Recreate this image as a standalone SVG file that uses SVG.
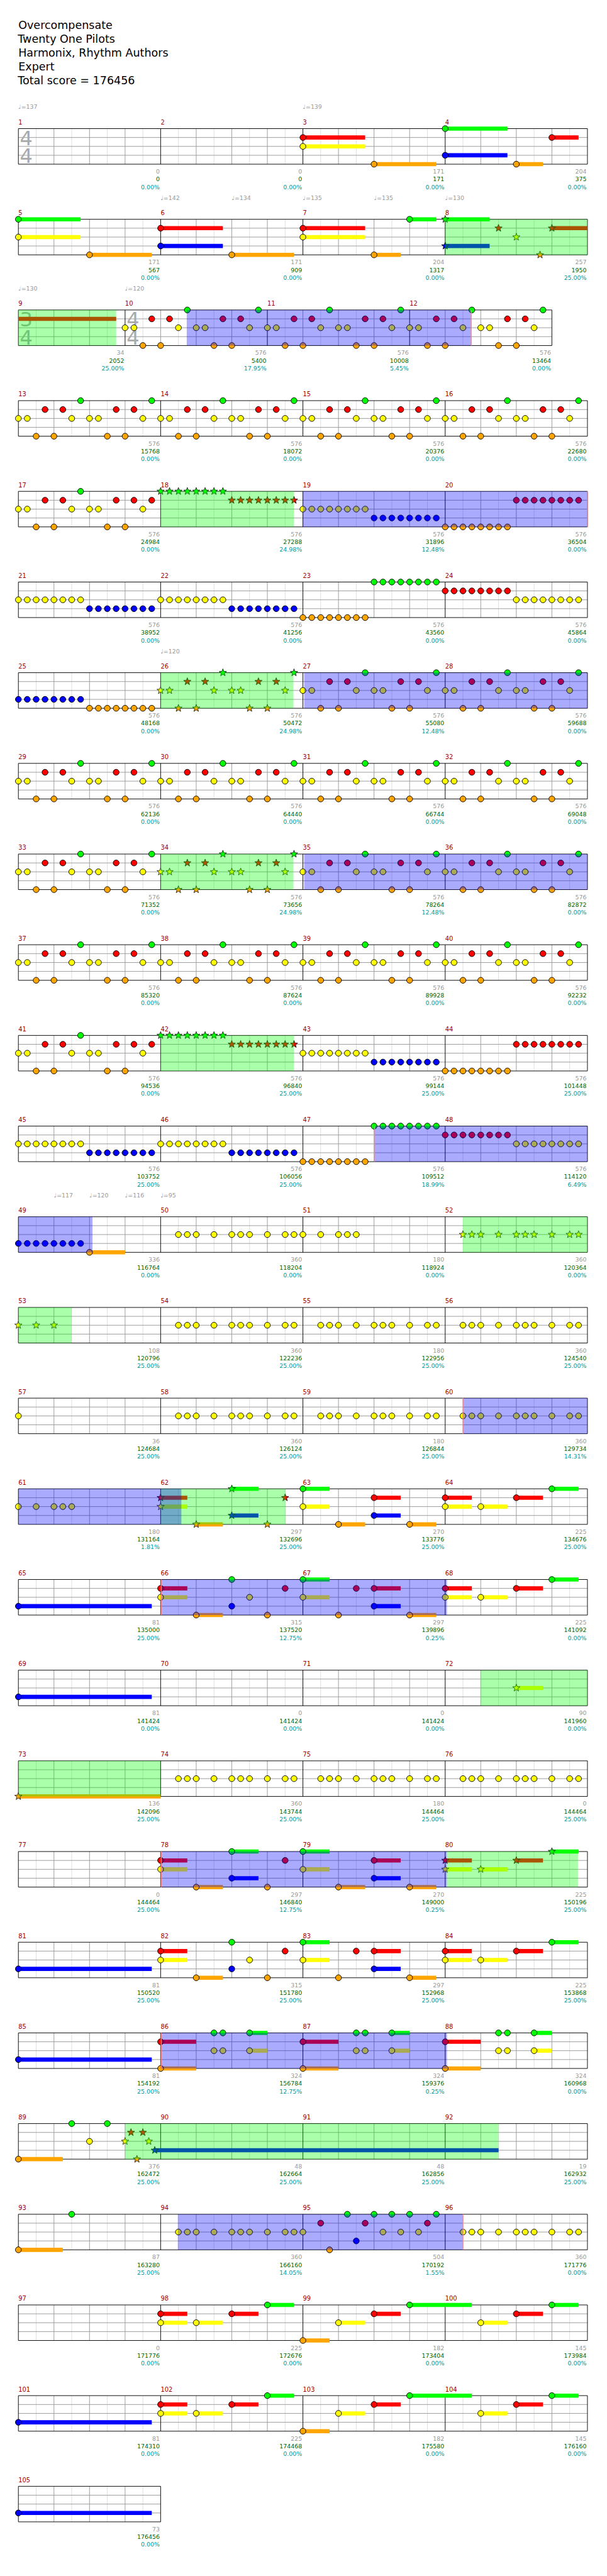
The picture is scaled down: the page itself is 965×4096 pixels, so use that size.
<svg xmlns="http://www.w3.org/2000/svg" width="965" height="4096" viewBox="0 0 965 4096">
<defs>
<style>
.t{font:18.6px 'DejaVu Sans',sans-serif;fill:#000}
.n{font:10.5px 'DejaVu Sans',sans-serif;fill:#900}
.q{font:10px 'DejaVu Sans',sans-serif;fill:#999}
.a,.b,.c{font:10px 'DejaVu Sans',sans-serif;text-anchor:end}
.a{fill:#999}.b{fill:#060}.c{fill:#099}
.ts{font:34px 'DejaVu Sans',sans-serif;fill:#aaa}
.sg,.sr,.sy,.sb,.so{stroke-width:7;fill:none}
.sg{stroke:#0f0}.sr{stroke:#f00}.sy{stroke:#ff0}.sb{stroke:#00f}.so{stroke:#ffa500}
.vb{fill:#00f;fill-opacity:.333}
.vg{fill:#0f0;fill-opacity:.333}
.pk{stroke:#f88;stroke-width:1.5}
</style>
<circle id="g" r="5" fill="#0f0" stroke="#000"/>
<circle id="r" cy="15" r="5" fill="#f00" stroke="#000"/>
<circle id="y" cy="30" r="5" fill="#ff0" stroke="#000"/>
<circle id="b" cy="45" r="5" fill="#00f" stroke="#000"/>
<circle id="o" cy="60" r="5" fill="#ffa500" stroke="#000"/>
<path id="st" d="M0-6.5L1.6-2.2 6.2-2 2.6 .8 3.8 5.3 0 2.7-3.8 5.3-2.6 .8-6.2-2-1.6-2.2Z" stroke="#000" stroke-width=".8"/>
<use id="G" href="#st" fill="#0f0"/>
<use id="R" href="#st" y="15" fill="#f00"/>
<use id="Y" href="#st" y="30" fill="#ff0"/>
<use id="B" href="#st" y="45" fill="#00f"/>
<use id="O" href="#st" y="60" fill="#ffa500"/>
<g id="grid">
<path d="M61 0v60M121 0v60M181 0v60M241 0v60M301 0v60M361 0v60M421 0v60M481 0v60M541 0v60M601 0v60M661 0v60M721 0v60M781 0v60M841 0v60M901 0v60M961 0v60" stroke="#ddd"/>
<path d="M91 0v60M151 0v60M211 0v60M331 0v60M391 0v60M451 0v60M571 0v60M631 0v60M691 0v60M811 0v60M871 0v60M931 0v60M31 15H991M31 30H991M31 45H991" stroke="#999"/>
<path d="M31 0H991V60H31ZM271 0v60M511 0v60M751 0v60" stroke="#000" fill="none"/>
</g>
<g id="h"><use href="#y"/><use href="#y" x="15"/><use href="#o" x="30"/><use href="#r" x="45"/><use href="#o" x="60"/><use href="#r" x="75"/><use href="#y" x="90"/></g>
<g id="H"><use href="#Y"/><use href="#Y" x="15"/><use href="#O" x="30"/><use href="#R" x="45"/><use href="#O" x="60"/><use href="#R" x="75"/><use href="#Y" x="90"/></g>
<g id="pA"><use href="#h"/><use href="#g" x="105"/><use href="#h" x="120"/><use href="#g" x="225"/></g>
<g id="pA2"><use href="#h"/><use href="#g" x="105"/><use href="#h" x="120"/><use href="#r" x="225"/></g>
<g id="sA"><use href="#H"/><use href="#G" x="105"/><use href="#H" x="120"/><use href="#G" x="225"/></g>
<g id="y8"><use href="#y"/><use href="#y" x="15"/><use href="#y" x="30"/><use href="#y" x="45"/><use href="#y" x="60"/><use href="#y" x="75"/><use href="#y" x="90"/><use href="#y" x="105"/></g>
<g id="b8"><use href="#b"/><use href="#b" x="15"/><use href="#b" x="30"/><use href="#b" x="45"/><use href="#b" x="60"/><use href="#b" x="75"/><use href="#b" x="90"/><use href="#b" x="105"/></g>
<g id="o8"><use href="#o"/><use href="#o" x="15"/><use href="#o" x="30"/><use href="#o" x="45"/><use href="#o" x="60"/><use href="#o" x="75"/><use href="#o" x="90"/><use href="#o" x="105"/></g>
<g id="r8"><use href="#r"/><use href="#r" x="15"/><use href="#r" x="30"/><use href="#r" x="45"/><use href="#r" x="60"/><use href="#r" x="75"/><use href="#r" x="90"/><use href="#r" x="105"/></g>
<g id="g8"><use href="#g"/><use href="#g" x="15"/><use href="#g" x="30"/><use href="#g" x="45"/><use href="#g" x="60"/><use href="#g" x="75"/><use href="#g" x="90"/><use href="#g" x="105"/></g>
<g id="G8"><use href="#G"/><use href="#G" x="15"/><use href="#G" x="30"/><use href="#G" x="45"/><use href="#G" x="60"/><use href="#G" x="75"/><use href="#G" x="90"/><use href="#G" x="105"/></g>
<g id="R8"><use href="#R"/><use href="#R" x="15"/><use href="#R" x="30"/><use href="#R" x="45"/><use href="#R" x="60"/><use href="#R" x="75"/><use href="#R" x="90"/><use href="#R" x="105"/></g>
<g id="sG"><use href="#G8"/><use href="#R8" x="120"/></g>
<g id="pB"><use href="#y" x="30"/><use href="#y" x="45"/><use href="#y" x="60"/><use href="#y" x="90"/><use href="#y" x="120"/><use href="#y" x="135"/><use href="#y" x="150"/><use href="#y" x="180"/><use href="#y" x="210"/><use href="#y" x="225"/></g>
<g id="sB"><use href="#Y" x="30"/><use href="#Y" x="45"/><use href="#Y" x="60"/><use href="#Y" x="90"/><use href="#Y" x="120"/><use href="#Y" x="135"/><use href="#Y" x="150"/><use href="#Y" x="180"/><use href="#Y" x="210"/><use href="#Y" x="225"/></g>
<g id="P1"><path class="sr" d="M0 15h45"/><path class="sy" d="M0 30h45"/><path class="so" d="M60 60h45"/><path class="sg" d="M120 0h45"/><path class="sb" d="M120 45h45"/><use href="#r"/><use href="#y"/><use href="#o" x="60"/><use href="#g" x="120"/><use href="#b" x="120"/><use href="#o" x="180"/><use href="#r" x="210"/></g>
<g id="S1"><path class="sr" d="M0 15h45"/><path class="sy" d="M0 30h45"/><path class="so" d="M60 60h45"/><path class="sg" d="M120 0h45"/><path class="sb" d="M120 45h45"/><use href="#R"/><use href="#Y"/><use href="#O" x="60"/><use href="#G" x="120"/><use href="#B" x="120"/><use href="#O" x="180"/><use href="#R" x="210"/></g>
<g id="P2"><path class="sg" d="M0 0h45"/><path class="sy" d="M0 30h45"/><path class="so" d="M60 60h45M180 60h45"/><path class="sr" d="M120 15h45"/><path class="sb" d="M120 45h45"/><use href="#g"/><use href="#y"/><use href="#o" x="60"/><use href="#r" x="120"/><use href="#b" x="120"/><use href="#o" x="180"/></g>
<g id="P3"><path class="sr" d="M0 15h45M120 15h45"/><path class="sy" d="M0 30h45M60 30h45"/><path class="sg" d="M180 0h45"/><use href="#r"/><use href="#y"/><use href="#y" x="60"/><use href="#r" x="120"/><use href="#g" x="180"/></g>
<g id="S3"><path class="sr" d="M0 15h45M120 15h45"/><path class="sy" d="M0 30h45M60 30h45"/><path class="sg" d="M180 0h45"/><use href="#R"/><use href="#Y"/><use href="#Y" x="60"/><use href="#R" x="120"/><use href="#G" x="180"/></g>
<g id="P4"><path class="sr" d="M0 15h45"/><path class="sy" d="M0 30h45"/><path class="so" d="M60 60h45"/><use href="#r"/><use href="#y"/><use href="#o" x="60"/><use href="#g" x="120"/><use href="#b" x="120"/><use href="#y" x="150"/><use href="#o" x="180"/><use href="#r" x="210"/></g>
<g id="P5"><path class="sg" d="M0 0h45"/><path class="sy" d="M0 30h45"/><path class="sr" d="M120 15h45"/><path class="sb" d="M120 45h45"/><path class="so" d="M180 60h45"/><use href="#g"/><use href="#y"/><use href="#o" x="60"/><use href="#r" x="90"/><use href="#r" x="120"/><use href="#b" x="120"/><use href="#o" x="180"/></g>
<g id="P6"><path class="sr" d="M0 15h60"/><path class="so" d="M0 60h60"/><path class="sg" d="M150 0h30"/><path class="sy" d="M150 30h30"/><use href="#r"/><use href="#o"/><use href="#g" x="90"/><use href="#g" x="105"/><use href="#g" x="150"/><use href="#y" x="90"/><use href="#y" x="105"/><use href="#y" x="150"/></g>
</defs>
<rect width="965" height="4096" fill="#fff"/>
<g transform="scale(0.9424)">
<g id="title" class="t"><text x="31" y="49">Overcompensate</text><text x="30" y="72.2">Twenty One Pilots</text><text x="31" y="95.4">Harmonix, Rhythm Authors</text><text x="31" y="118.6">Expert</text><text x="30" y="141.8">Total score = 176456</text></g>

<g id="row1" transform="translate(0,217)">
<use href="#grid"/>
<text class="ts" x="33.5" y="28">4</text><text class="ts" x="33.5" y="58">4</text>
<g class="q"><text x="31" y="-33">♩=137</text><text x="511" y="-33">♩=139</text></g>
<g class="n"><text x="31" y="-7">1</text><text x="271" y="-7">2</text><text x="511" y="-7">3</text><text x="751" y="-7">4</text></g>
<path class="sr" d="M511 15h105M931 15h45"/><path class="sy" d="M511 30h105"/><path class="so" d="M631 60h105M871 60h45"/><path class="sg" d="M751 0h105"/><path class="sb" d="M751 45h105"/>
<use href="#r" x="511"/><use href="#y" x="511"/><use href="#o" x="631"/><use href="#g" x="751"/><use href="#b" x="751"/><use href="#o" x="871"/><use href="#r" x="931"/>
<g class="a"><text x="269.5" y="76">0</text><text x="509.5" y="76">0</text><text x="749.5" y="76">171</text><text x="989.5" y="76">204</text></g>
<g class="b"><text x="269.5" y="89">0</text><text x="509.5" y="89">0</text><text x="749.5" y="89">171</text><text x="989.5" y="89">375</text></g>
<g class="c"><text x="269.5" y="102">0.00%</text><text x="509.5" y="102">0.00%</text><text x="749.5" y="102">0.00%</text><text x="989.5" y="102">0.00%</text></g>
</g>

<g id="row2" transform="translate(0,370)">
<use href="#grid"/>
<g class="q"><text x="271" y="-33">♩=142</text><text x="391" y="-33">♩=134</text><text x="511" y="-33">♩=135</text><text x="631" y="-33">♩=135</text><text x="751" y="-33">♩=130</text></g>
<g class="n"><text x="31" y="-7">5</text><text x="271" y="-7">6</text><text x="511" y="-7">7</text><text x="751" y="-7">8</text></g>
<path class="sg" d="M31 0h105M691 0h45M751 0h75"/><path class="sy" d="M31 30h105M511 30h105"/><path class="so" d="M151 60h105M391 60h105M631 60h45"/><path class="sr" d="M271 15h105M511 15h105M931 15H991"/><path class="sb" d="M271 45h105M751 45h75"/>
<use href="#g" x="31"/><use href="#y" x="31"/><use href="#o" x="151"/><use href="#r" x="271"/><use href="#b" x="271"/><use href="#o" x="391"/><use href="#r" x="511"/><use href="#y" x="511"/><use href="#o" x="631"/><use href="#g" x="691"/>
<use href="#G" x="751"/><use href="#B" x="751"/><use href="#R" x="841"/><use href="#Y" x="871"/><use href="#O" x="911"/><use href="#R" x="931"/>
<rect class="vg" x="751" width="240" height="60"/>
<g class="a"><text x="269.5" y="76">171</text><text x="509.5" y="76">171</text><text x="749.5" y="76">204</text><text x="989.5" y="76">257</text></g>
<g class="b"><text x="269.5" y="89">567</text><text x="509.5" y="89">909</text><text x="749.5" y="89">1317</text><text x="989.5" y="89">1950</text></g>
<g class="c"><text x="269.5" y="102">0.00%</text><text x="509.5" y="102">0.00%</text><text x="749.5" y="102">0.00%</text><text x="989.5" y="102">25.00%</text></g>
</g>

<g id="row3" transform="translate(0,523)">
<path d="M61 0v60M121 0v60M181 0v60M241 0v60M301 0v60M361 0v60M421 0v60M481 0v60M541 0v60M601 0v60M661 0v60M721 0v60M781 0v60M841 0v60M901 0v60" stroke="#ddd"/>
<path d="M91 0v60M151 0v60M271 0v60M331 0v60M391 0v60M511 0v60M571 0v60M631 0v60M751 0v60M811 0v60M871 0v60M31 15H931M31 30H931M31 45H931" stroke="#999"/>
<path d="M31 0H931V60H31ZM211 0v60M451 0v60M691 0v60" stroke="#000" fill="none"/>
<text class="ts" x="33.5" y="28">3</text><text class="ts" x="33.5" y="58">4</text><text class="ts" x="213.5" y="28">4</text><text class="ts" x="213.5" y="58">4</text>
<g class="q"><text x="31" y="-33">♩=130</text><text x="211" y="-33">♩=120</text></g>
<g class="n"><text x="31" y="-7">9</text><text x="211" y="-7">10</text><text x="451" y="-7">11</text><text x="691" y="-7">12</text></g>
<path class="sr" d="M31 15H196"/>
<use href="#pA" x="211"/><use href="#pA" x="451"/><use href="#pA" x="691"/>
<rect class="vg" x="31" width="165" height="60"/><rect class="vb" x="315" width="480" height="60"/><path class="pk" d="M795 0v60"/>
<g class="a"><text x="209.5" y="76">34</text><text x="449.5" y="76">576</text><text x="689.5" y="76">576</text><text x="929.5" y="76">576</text></g>
<g class="b"><text x="209.5" y="89">2052</text><text x="449.5" y="89">5400</text><text x="689.5" y="89">10008</text><text x="929.5" y="89">13464</text></g>
<g class="c"><text x="209.5" y="102">25.00%</text><text x="449.5" y="102">17.95%</text><text x="689.5" y="102">5.45%</text><text x="929.5" y="102">0.00%</text></g>
</g>

<g id="row4" transform="translate(0,676)">
<use href="#grid"/>
<g class="n"><text x="31" y="-7">13</text><text x="271" y="-7">14</text><text x="511" y="-7">15</text><text x="751" y="-7">16</text></g>
<use href="#pA" x="31"/><use href="#pA" x="271"/><use href="#pA" x="511"/><use href="#pA" x="751"/>
<g class="a"><text x="269.5" y="76">576</text><text x="509.5" y="76">576</text><text x="749.5" y="76">576</text><text x="989.5" y="76">576</text></g>
<g class="b"><text x="269.5" y="89">15768</text><text x="509.5" y="89">18072</text><text x="749.5" y="89">20376</text><text x="989.5" y="89">22680</text></g>
<g class="c"><text x="269.5" y="102">0.00%</text><text x="509.5" y="102">0.00%</text><text x="749.5" y="102">0.00%</text><text x="989.5" y="102">0.00%</text></g>
</g>

<g id="row5" transform="translate(0,829)">
<use href="#grid"/>
<g class="n"><text x="31" y="-7">17</text><text x="271" y="-7">18</text><text x="511" y="-7">19</text><text x="751" y="-7">20</text></g>
<use href="#pA2" x="31"/><use href="#sG" x="271"/><use href="#y8" x="511"/><use href="#b8" x="631"/><use href="#o8" x="751"/><use href="#r8" x="871"/>
<rect class="vg" x="271" width="225" height="60"/><rect class="vb" x="511" width="480" height="60"/><path class="pk" d="M991 0v60"/>
<g class="a"><text x="269.5" y="76">576</text><text x="509.5" y="76">576</text><text x="749.5" y="76">576</text><text x="989.5" y="76">576</text></g>
<g class="b"><text x="269.5" y="89">24984</text><text x="509.5" y="89">27288</text><text x="749.5" y="89">31896</text><text x="989.5" y="89">36504</text></g>
<g class="c"><text x="269.5" y="102">0.00%</text><text x="509.5" y="102">24.98%</text><text x="749.5" y="102">12.48%</text><text x="989.5" y="102">0.00%</text></g>
</g>

<g id="row6" transform="translate(0,982)">
<use href="#grid"/>
<g class="n"><text x="31" y="-7">21</text><text x="271" y="-7">22</text><text x="511" y="-7">23</text><text x="751" y="-7">24</text></g>
<use href="#y8" x="31"/><use href="#b8" x="151"/><use href="#y8" x="271"/><use href="#b8" x="391"/><use href="#o8" x="511"/><use href="#g8" x="631"/><use href="#r8" x="751"/><use href="#y8" x="871"/>
<g class="a"><text x="269.5" y="76">576</text><text x="509.5" y="76">576</text><text x="749.5" y="76">576</text><text x="989.5" y="76">576</text></g>
<g class="b"><text x="269.5" y="89">38952</text><text x="509.5" y="89">41256</text><text x="749.5" y="89">43560</text><text x="989.5" y="89">45864</text></g>
<g class="c"><text x="269.5" y="102">0.00%</text><text x="509.5" y="102">0.00%</text><text x="749.5" y="102">0.00%</text><text x="989.5" y="102">0.00%</text></g>
</g>

<g id="row7" transform="translate(0,1135)">
<use href="#grid"/>
<g class="q"><text x="271" y="-33">♩=120</text></g>
<g class="n"><text x="31" y="-7">25</text><text x="271" y="-7">26</text><text x="511" y="-7">27</text><text x="751" y="-7">28</text></g>
<use href="#b8" x="31"/><use href="#o8" x="151"/><use href="#sA" x="271"/><use href="#pA" x="511"/><use href="#pA" x="751"/>
<rect class="vg" x="271" width="224" height="60"/><rect class="vb" x="513" width="478" height="60"/>
<g class="a"><text x="269.5" y="76">576</text><text x="509.5" y="76">576</text><text x="749.5" y="76">576</text><text x="989.5" y="76">576</text></g>
<g class="b"><text x="269.5" y="89">48168</text><text x="509.5" y="89">50472</text><text x="749.5" y="89">55080</text><text x="989.5" y="89">59688</text></g>
<g class="c"><text x="269.5" y="102">0.00%</text><text x="509.5" y="102">24.98%</text><text x="749.5" y="102">12.48%</text><text x="989.5" y="102">0.00%</text></g>
</g>

<g id="row8" transform="translate(0,1288)">
<use href="#grid"/>
<g class="n"><text x="31" y="-7">29</text><text x="271" y="-7">30</text><text x="511" y="-7">31</text><text x="751" y="-7">32</text></g>
<use href="#pA" x="31"/><use href="#pA" x="271"/><use href="#pA" x="511"/><use href="#pA" x="751"/>
<g class="a"><text x="269.5" y="76">576</text><text x="509.5" y="76">576</text><text x="749.5" y="76">576</text><text x="989.5" y="76">576</text></g>
<g class="b"><text x="269.5" y="89">62136</text><text x="509.5" y="89">64440</text><text x="749.5" y="89">66744</text><text x="989.5" y="89">69048</text></g>
<g class="c"><text x="269.5" y="102">0.00%</text><text x="509.5" y="102">0.00%</text><text x="749.5" y="102">0.00%</text><text x="989.5" y="102">0.00%</text></g>
</g>

<g id="row9" transform="translate(0,1441)">
<use href="#grid"/>
<g class="n"><text x="31" y="-7">33</text><text x="271" y="-7">34</text><text x="511" y="-7">35</text><text x="751" y="-7">36</text></g>
<use href="#pA" x="31"/><use href="#sA" x="271"/><use href="#pA" x="511"/><use href="#pA" x="751"/>
<rect class="vg" x="271" width="224" height="60"/><rect class="vb" x="513" width="478" height="60"/>
<g class="a"><text x="269.5" y="76">576</text><text x="509.5" y="76">576</text><text x="749.5" y="76">576</text><text x="989.5" y="76">576</text></g>
<g class="b"><text x="269.5" y="89">71352</text><text x="509.5" y="89">73656</text><text x="749.5" y="89">78264</text><text x="989.5" y="89">82872</text></g>
<g class="c"><text x="269.5" y="102">0.00%</text><text x="509.5" y="102">24.98%</text><text x="749.5" y="102">12.48%</text><text x="989.5" y="102">0.00%</text></g>
</g>

<g id="row10" transform="translate(0,1594)">
<use href="#grid"/>
<g class="n"><text x="31" y="-7">37</text><text x="271" y="-7">38</text><text x="511" y="-7">39</text><text x="751" y="-7">40</text></g>
<use href="#pA" x="31"/><use href="#pA" x="271"/><use href="#pA" x="511"/><use href="#pA" x="751"/>
<g class="a"><text x="269.5" y="76">576</text><text x="509.5" y="76">576</text><text x="749.5" y="76">576</text><text x="989.5" y="76">576</text></g>
<g class="b"><text x="269.5" y="89">85320</text><text x="509.5" y="89">87624</text><text x="749.5" y="89">89928</text><text x="989.5" y="89">92232</text></g>
<g class="c"><text x="269.5" y="102">0.00%</text><text x="509.5" y="102">0.00%</text><text x="749.5" y="102">0.00%</text><text x="989.5" y="102">0.00%</text></g>
</g>

<g id="row11" transform="translate(0,1747)">
<use href="#grid"/>
<g class="n"><text x="31" y="-7">41</text><text x="271" y="-7">42</text><text x="511" y="-7">43</text><text x="751" y="-7">44</text></g>
<use href="#pA2" x="31"/><use href="#sG" x="271"/><use href="#y8" x="511"/><use href="#b8" x="631"/><use href="#o8" x="751"/><use href="#r8" x="871"/>
<rect class="vg" x="271" width="225" height="60"/>
<g class="a"><text x="269.5" y="76">576</text><text x="509.5" y="76">576</text><text x="749.5" y="76">576</text><text x="989.5" y="76">576</text></g>
<g class="b"><text x="269.5" y="89">94536</text><text x="509.5" y="89">96840</text><text x="749.5" y="89">99144</text><text x="989.5" y="89">101448</text></g>
<g class="c"><text x="269.5" y="102">0.00%</text><text x="509.5" y="102">25.00%</text><text x="749.5" y="102">25.00%</text><text x="989.5" y="102">25.00%</text></g>
</g>

<g id="row12" transform="translate(0,1900)">
<use href="#grid"/>
<g class="n"><text x="31" y="-7">45</text><text x="271" y="-7">46</text><text x="511" y="-7">47</text><text x="751" y="-7">48</text></g>
<use href="#y8" x="31"/><use href="#b8" x="151"/><use href="#y8" x="271"/><use href="#b8" x="391"/><use href="#o8" x="511"/><use href="#g8" x="631"/><use href="#r8" x="751"/><use href="#y8" x="871"/>
<rect class="vb" x="632" width="359" height="60"/><path class="pk" d="M632 0v60"/>
<g class="a"><text x="269.5" y="76">576</text><text x="509.5" y="76">576</text><text x="749.5" y="76">576</text><text x="989.5" y="76">576</text></g>
<g class="b"><text x="269.5" y="89">103752</text><text x="509.5" y="89">106056</text><text x="749.5" y="89">109512</text><text x="989.5" y="89">114120</text></g>
<g class="c"><text x="269.5" y="102">25.00%</text><text x="509.5" y="102">25.00%</text><text x="749.5" y="102">18.99%</text><text x="989.5" y="102">6.49%</text></g>
</g>

<g id="row13" transform="translate(0,2053)">
<use href="#grid"/>
<g class="q"><text x="91" y="-33">♩=117</text><text x="151" y="-33">♩=120</text><text x="211" y="-33">♩=116</text><text x="271" y="-33">♩=95</text></g>
<g class="n"><text x="31" y="-7">49</text><text x="271" y="-7">50</text><text x="511" y="-7">51</text><text x="751" y="-7">52</text></g>
<path class="so" d="M151 60h60"/>
<use href="#b8" x="31"/><use href="#o" x="151"/><use href="#pB" x="271"/><use href="#y" x="511"/><use href="#y" x="541"/><use href="#y" x="571"/><use href="#y" x="586"/><use href="#y" x="601"/><use href="#sB" x="751"/>
<rect class="vb" x="31" width="125" height="60"/><rect class="vg" x="781" width="210" height="60"/>
<g class="a"><text x="269.5" y="76">336</text><text x="509.5" y="76">360</text><text x="749.5" y="76">180</text><text x="989.5" y="76">360</text></g>
<g class="b"><text x="269.5" y="89">116764</text><text x="509.5" y="89">118204</text><text x="749.5" y="89">118924</text><text x="989.5" y="89">120364</text></g>
<g class="c"><text x="269.5" y="102">0.00%</text><text x="509.5" y="102">0.00%</text><text x="749.5" y="102">0.00%</text><text x="989.5" y="102">0.00%</text></g>
</g>

<g id="row14" transform="translate(0,2206)">
<use href="#grid"/>
<g class="n"><text x="31" y="-7">53</text><text x="271" y="-7">54</text><text x="511" y="-7">55</text><text x="751" y="-7">56</text></g>
<use href="#Y" x="31"/><use href="#Y" x="61"/><use href="#Y" x="91"/><use href="#pB" x="271"/><use href="#pB" x="511"/><use href="#pB" x="751"/>
<rect class="vg" x="31" width="90" height="60"/>
<g class="a"><text x="269.5" y="76">108</text><text x="509.5" y="76">360</text><text x="749.5" y="76">180</text><text x="989.5" y="76">360</text></g>
<g class="b"><text x="269.5" y="89">120796</text><text x="509.5" y="89">122236</text><text x="749.5" y="89">122956</text><text x="989.5" y="89">124540</text></g>
<g class="c"><text x="269.5" y="102">25.00%</text><text x="509.5" y="102">25.00%</text><text x="749.5" y="102">25.00%</text><text x="989.5" y="102">25.00%</text></g>
</g>

<g id="row15" transform="translate(0,2359)">
<use href="#grid"/>
<g class="n"><text x="31" y="-7">57</text><text x="271" y="-7">58</text><text x="511" y="-7">59</text><text x="751" y="-7">60</text></g>
<use href="#y" x="31"/><use href="#pB" x="271"/><use href="#pB" x="511"/><use href="#pB" x="751"/>
<rect class="vb" x="781" width="210" height="60"/><path class="pk" d="M781 0v60"/>
<g class="a"><text x="269.5" y="76">36</text><text x="509.5" y="76">360</text><text x="749.5" y="76">180</text><text x="989.5" y="76">360</text></g>
<g class="b"><text x="269.5" y="89">124684</text><text x="509.5" y="89">126124</text><text x="749.5" y="89">126844</text><text x="989.5" y="89">129734</text></g>
<g class="c"><text x="269.5" y="102">25.00%</text><text x="509.5" y="102">25.00%</text><text x="749.5" y="102">25.00%</text><text x="989.5" y="102">14.31%</text></g>
</g>

<g id="row16" transform="translate(0,2512)">
<use href="#grid"/>
<g class="n"><text x="31" y="-7">61</text><text x="271" y="-7">62</text><text x="511" y="-7">63</text><text x="751" y="-7">64</text></g>
<use href="#y" x="31"/><use href="#y" x="61"/><use href="#y" x="91"/><use href="#y" x="106"/><use href="#y" x="121"/>
<use href="#S1" x="271"/><use href="#P2" x="511"/><use href="#P3" x="751"/>
<rect class="vg" x="271" width="211" height="60"/><rect class="vb" x="31" width="275" height="60"/>
<g class="a"><text x="269.5" y="76">180</text><text x="509.5" y="76">297</text><text x="749.5" y="76">270</text><text x="989.5" y="76">225</text></g>
<g class="b"><text x="269.5" y="89">131164</text><text x="509.5" y="89">132696</text><text x="749.5" y="89">133776</text><text x="989.5" y="89">134676</text></g>
<g class="c"><text x="269.5" y="102">1.81%</text><text x="509.5" y="102">25.00%</text><text x="749.5" y="102">25.00%</text><text x="989.5" y="102">25.00%</text></g>
</g>

<g id="row17" transform="translate(0,2665)">
<use href="#grid"/>
<g class="n"><text x="31" y="-7">65</text><text x="271" y="-7">66</text><text x="511" y="-7">67</text><text x="751" y="-7">68</text></g>
<path class="sb" d="M31 45h225"/><use href="#b" x="31"/>
<use href="#P4" x="271"/><use href="#P5" x="511"/><use href="#P3" x="751"/>
<rect class="vb" x="271" width="483" height="60"/><path class="pk" d="M272 0v60"/>
<g class="a"><text x="269.5" y="76">81</text><text x="509.5" y="76">315</text><text x="749.5" y="76">297</text><text x="989.5" y="76">225</text></g>
<g class="b"><text x="269.5" y="89">135000</text><text x="509.5" y="89">137520</text><text x="749.5" y="89">139896</text><text x="989.5" y="89">141092</text></g>
<g class="c"><text x="269.5" y="102">25.00%</text><text x="509.5" y="102">12.75%</text><text x="749.5" y="102">0.25%</text><text x="989.5" y="102">0.00%</text></g>
</g>

<g id="row18" transform="translate(0,2818)">
<use href="#grid"/>
<g class="n"><text x="31" y="-7">69</text><text x="271" y="-7">70</text><text x="511" y="-7">71</text><text x="751" y="-7">72</text></g>
<path class="sb" d="M31 45h225"/><use href="#b" x="31"/>
<path class="sy" d="M871 30h45"/><use href="#Y" x="871"/>
<rect class="vg" x="811" width="180" height="60"/>
<g class="a"><text x="269.5" y="76">81</text><text x="509.5" y="76">0</text><text x="749.5" y="76">0</text><text x="989.5" y="76">90</text></g>
<g class="b"><text x="269.5" y="89">141424</text><text x="509.5" y="89">141424</text><text x="749.5" y="89">141424</text><text x="989.5" y="89">141960</text></g>
<g class="c"><text x="269.5" y="102">0.00%</text><text x="509.5" y="102">0.00%</text><text x="749.5" y="102">0.00%</text><text x="989.5" y="102">0.00%</text></g>
</g>

<g id="row19" transform="translate(0,2971)">
<use href="#grid"/>
<g class="n"><text x="31" y="-7">73</text><text x="271" y="-7">74</text><text x="511" y="-7">75</text><text x="751" y="-7">76</text></g>
<path class="so" d="M31 60H271"/><use href="#O" x="31"/>
<use href="#pB" x="271"/><use href="#pB" x="511"/><use href="#pB" x="751"/>
<rect class="vg" x="31" width="240" height="60"/>
<g class="a"><text x="269.5" y="76">136</text><text x="509.5" y="76">360</text><text x="749.5" y="76">180</text><text x="989.5" y="76">0</text></g>
<g class="b"><text x="269.5" y="89">142096</text><text x="509.5" y="89">143744</text><text x="749.5" y="89">144464</text><text x="989.5" y="89">144464</text></g>
<g class="c"><text x="269.5" y="102">25.00%</text><text x="509.5" y="102">25.00%</text><text x="749.5" y="102">25.00%</text><text x="989.5" y="102">25.00%</text></g>
</g>

<g id="row20" transform="translate(0,3124)">
<use href="#grid"/>
<g class="n"><text x="31" y="-7">77</text><text x="271" y="-7">78</text><text x="511" y="-7">79</text><text x="751" y="-7">80</text></g>
<use href="#P1" x="271"/><use href="#P2" x="511"/><use href="#S3" x="751"/>
<rect class="vb" x="271" width="483" height="60"/><rect class="vg" x="754" width="221" height="60"/><path class="pk" d="M272 0v60"/>
<g class="a"><text x="269.5" y="76">0</text><text x="509.5" y="76">297</text><text x="749.5" y="76">270</text><text x="989.5" y="76">225</text></g>
<g class="b"><text x="269.5" y="89">144464</text><text x="509.5" y="89">146840</text><text x="749.5" y="89">149000</text><text x="989.5" y="89">150196</text></g>
<g class="c"><text x="269.5" y="102">25.00%</text><text x="509.5" y="102">12.75%</text><text x="749.5" y="102">0.25%</text><text x="989.5" y="102">25.00%</text></g>
</g>

<g id="row21" transform="translate(0,3277)">
<use href="#grid"/>
<g class="n"><text x="31" y="-7">81</text><text x="271" y="-7">82</text><text x="511" y="-7">83</text><text x="751" y="-7">84</text></g>
<path class="sb" d="M31 45h225"/><use href="#b" x="31"/>
<use href="#P4" x="271"/><use href="#P5" x="511"/><use href="#P3" x="751"/>
<g class="a"><text x="269.5" y="76">81</text><text x="509.5" y="76">315</text><text x="749.5" y="76">297</text><text x="989.5" y="76">225</text></g>
<g class="b"><text x="269.5" y="89">150520</text><text x="509.5" y="89">151780</text><text x="749.5" y="89">152968</text><text x="989.5" y="89">153868</text></g>
<g class="c"><text x="269.5" y="102">25.00%</text><text x="509.5" y="102">25.00%</text><text x="749.5" y="102">25.00%</text><text x="989.5" y="102">25.00%</text></g>
</g>

<g id="row22" transform="translate(0,3430)">
<use href="#grid"/>
<g class="n"><text x="31" y="-7">85</text><text x="271" y="-7">86</text><text x="511" y="-7">87</text><text x="751" y="-7">88</text></g>
<path class="sb" d="M31 45h225"/><use href="#b" x="31"/>
<use href="#P6" x="271"/><use href="#P6" x="511"/><use href="#P6" x="751"/>
<rect class="vb" x="271" width="483" height="60"/><path class="pk" d="M272 0v60"/>
<g class="a"><text x="269.5" y="76">81</text><text x="509.5" y="76">324</text><text x="749.5" y="76">324</text><text x="989.5" y="76">324</text></g>
<g class="b"><text x="269.5" y="89">154192</text><text x="509.5" y="89">156784</text><text x="749.5" y="89">159376</text><text x="989.5" y="89">160968</text></g>
<g class="c"><text x="269.5" y="102">25.00%</text><text x="509.5" y="102">12.75%</text><text x="749.5" y="102">0.25%</text><text x="989.5" y="102">0.00%</text></g>
</g>

<g id="row23" transform="translate(0,3583)">
<use href="#grid"/>
<g class="n"><text x="31" y="-7">89</text><text x="271" y="-7">90</text><text x="511" y="-7">91</text><text x="751" y="-7">92</text></g>
<path class="so" d="M31 60h75"/><path class="sb" d="M261 45H841"/>
<use href="#o" x="31"/><use href="#g" x="121"/><use href="#y" x="151"/><use href="#g" x="181"/>
<use href="#Y" x="211"/><use href="#R" x="221"/><use href="#O" x="231"/><use href="#R" x="241"/><use href="#Y" x="251"/><use href="#B" x="261"/>
<rect class="vg" x="211" width="630" height="60"/>
<g class="a"><text x="269.5" y="76">376</text><text x="509.5" y="76">48</text><text x="749.5" y="76">48</text><text x="989.5" y="76">19</text></g>
<g class="b"><text x="269.5" y="89">162472</text><text x="509.5" y="89">162664</text><text x="749.5" y="89">162856</text><text x="989.5" y="89">162932</text></g>
<g class="c"><text x="269.5" y="102">25.00%</text><text x="509.5" y="102">25.00%</text><text x="749.5" y="102">25.00%</text><text x="989.5" y="102">25.00%</text></g>
</g>

<g id="row24" transform="translate(0,3736)">
<use href="#grid"/>
<g class="n"><text x="31" y="-7">93</text><text x="271" y="-7">94</text><text x="511" y="-7">95</text><text x="751" y="-7">96</text></g>
<path class="so" d="M31 60h75"/><use href="#o" x="31"/><use href="#g" x="121"/>
<use href="#pB" x="271"/>
<use href="#y" x="511"/><use href="#r" x="541"/><use href="#o" x="556"/><use href="#g" x="586"/><use href="#b" x="601"/><use href="#r" x="616"/><use href="#g" x="631"/><use href="#y" x="646"/><use href="#g" x="661"/><use href="#y" x="676"/><use href="#g" x="691"/><use href="#y" x="706"/><use href="#r" x="721"/><use href="#g" x="736"/>
<use href="#pB" x="751"/>
<rect class="vb" x="300" width="481" height="60"/><path class="pk" d="M781 0v60"/>
<g class="a"><text x="269.5" y="76">87</text><text x="509.5" y="76">360</text><text x="749.5" y="76">504</text><text x="989.5" y="76">360</text></g>
<g class="b"><text x="269.5" y="89">163280</text><text x="509.5" y="89">166160</text><text x="749.5" y="89">170192</text><text x="989.5" y="89">171776</text></g>
<g class="c"><text x="269.5" y="102">25.00%</text><text x="509.5" y="102">14.05%</text><text x="749.5" y="102">1.55%</text><text x="989.5" y="102">0.00%</text></g>
</g>

<g id="row25" transform="translate(0,3889)">
<use href="#grid"/>
<g class="n"><text x="31" y="-7">97</text><text x="271" y="-7">98</text><text x="511" y="-7">99</text><text x="751" y="-7">100</text></g>
<use href="#P3" x="271"/>
<path class="so" d="M511 60h45"/><path class="sy" d="M571 30h45M811 30h45"/><path class="sr" d="M631 15h45M871 15h45"/><path class="sg" d="M691 0h105M931 0h45"/>
<use href="#o" x="511"/><use href="#y" x="571"/><use href="#r" x="631"/><use href="#g" x="691"/><use href="#y" x="811"/><use href="#r" x="871"/><use href="#g" x="931"/>
<g class="a"><text x="269.5" y="76">0</text><text x="509.5" y="76">225</text><text x="749.5" y="76">182</text><text x="989.5" y="76">145</text></g>
<g class="b"><text x="269.5" y="89">171776</text><text x="509.5" y="89">172676</text><text x="749.5" y="89">173404</text><text x="989.5" y="89">173984</text></g>
<g class="c"><text x="269.5" y="102">0.00%</text><text x="509.5" y="102">0.00%</text><text x="749.5" y="102">0.00%</text><text x="989.5" y="102">0.00%</text></g>
</g>

<g id="row26" transform="translate(0,4042)">
<use href="#grid"/>
<g class="n"><text x="31" y="-7">101</text><text x="271" y="-7">102</text><text x="511" y="-7">103</text><text x="751" y="-7">104</text></g>
<path class="sb" d="M31 45h225"/><use href="#b" x="31"/>
<use href="#P3" x="271"/>
<path class="so" d="M511 60h45"/><path class="sy" d="M571 30h45M811 30h45"/><path class="sr" d="M631 15h45M871 15h45"/><path class="sg" d="M691 0h105M931 0h45"/>
<use href="#o" x="511"/><use href="#y" x="571"/><use href="#r" x="631"/><use href="#g" x="691"/><use href="#y" x="811"/><use href="#r" x="871"/><use href="#g" x="931"/>
<g class="a"><text x="269.5" y="76">81</text><text x="509.5" y="76">225</text><text x="749.5" y="76">182</text><text x="989.5" y="76">145</text></g>
<g class="b"><text x="269.5" y="89">174310</text><text x="509.5" y="89">174468</text><text x="749.5" y="89">175580</text><text x="989.5" y="89">176160</text></g>
<g class="c"><text x="269.5" y="102">0.00%</text><text x="509.5" y="102">0.00%</text><text x="749.5" y="102">0.00%</text><text x="989.5" y="102">0.00%</text></g>
</g>

<g id="row27" transform="translate(0,4195)">
<path d="M61 0v60M121 0v60M181 0v60M241 0v60" stroke="#ddd"/>
<path d="M91 0v60M151 0v60M211 0v60M31 15H271M31 30H271M31 45H271" stroke="#999"/>
<path d="M31 0H271V60H31Z" stroke="#000" fill="none"/>
<g class="n"><text x="31" y="-7">105</text></g>
<path class="sb" d="M31 45h225"/><use href="#b" x="31"/>
<g class="a"><text x="269.5" y="76">73</text></g>
<g class="b"><text x="269.5" y="89">176456</text></g>
<g class="c"><text x="269.5" y="102">0.00%</text></g>
</g>
</g>
</svg>
